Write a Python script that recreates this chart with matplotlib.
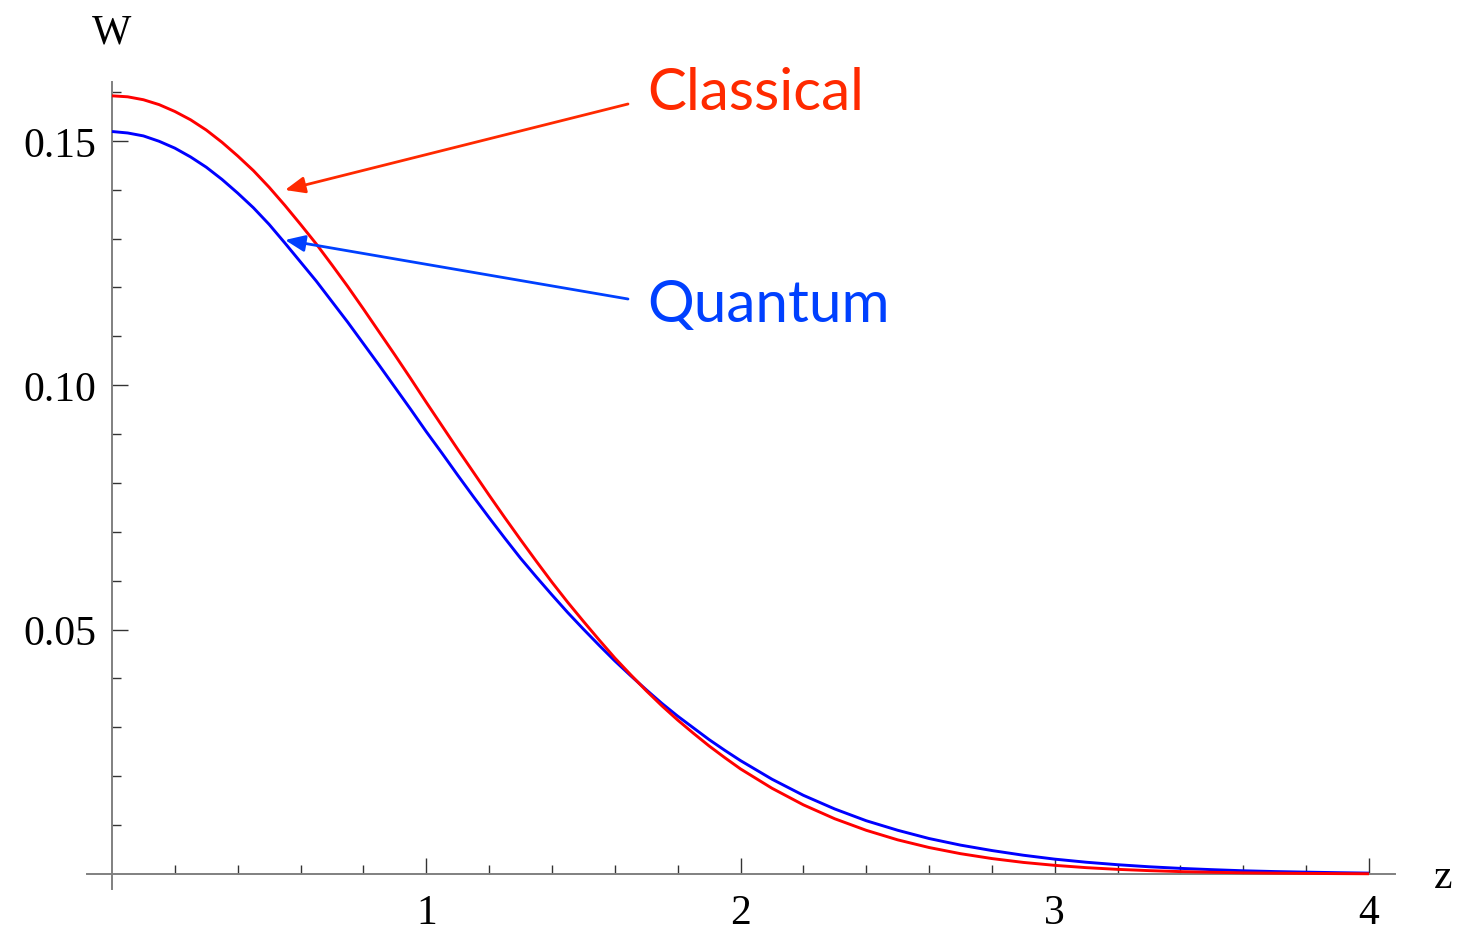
import matplotlib
matplotlib.use('Agg')
import matplotlib.pyplot as plt

# ---- data ----
z = [0.0, 0.05, 0.1, 0.15, 0.2, 0.25, 0.3, 0.35, 0.4, 0.45,
     0.5, 0.55, 0.6, 0.65, 0.7, 0.75, 0.8, 0.85, 0.9, 0.95,
     1.0, 1.05, 1.1, 1.15, 1.2, 1.25, 1.3, 1.35, 1.4, 1.45,
     1.5, 1.55, 1.6, 1.65, 1.7, 1.75, 1.8, 1.85, 1.9, 1.95,
     2.0, 2.1, 2.2, 2.3, 2.4, 2.5, 2.6, 2.7, 2.8, 2.9,
     3.0, 3.1, 3.2, 3.3, 3.4, 3.5, 3.6, 3.7, 3.8, 3.9, 4.0]

classical = [0.1592, 0.1590, 0.1584, 0.1574, 0.1560, 0.1543, 0.1522, 0.1497, 0.1469, 0.1439,
             0.1405, 0.1368, 0.1329, 0.1289, 0.1246, 0.1202, 0.1156, 0.1109, 0.1062, 0.1014,
             0.0965, 0.0917, 0.0869, 0.0822, 0.0775, 0.0729, 0.0684, 0.0640, 0.0597, 0.0556,
             0.0517, 0.0479, 0.0442, 0.0408, 0.0375, 0.0344, 0.0315, 0.0288, 0.0262, 0.0238,
             0.0215, 0.01755, 0.01415, 0.0113, 0.00894, 0.00699, 0.00542, 0.00416, 0.00316, 0.00237,
             0.00177, 0.00130, 0.00095, 0.00069, 0.00049, 0.00035, 0.00024, 0.00017, 0.00012, 0.00008, 0.00005]

quantum = [0.1519, 0.1516, 0.1510, 0.1499, 0.1485, 0.1467, 0.1446, 0.1421, 0.1393, 0.1363,
           0.1329, 0.1291, 0.1252, 0.1213, 0.1171, 0.1129, 0.1085, 0.1041, 0.0996, 0.0951,
           0.0905, 0.0861, 0.0816, 0.0772, 0.0729, 0.0687, 0.0646, 0.0608, 0.0571, 0.0535,
           0.0501, 0.0468, 0.0436, 0.0406, 0.0377, 0.0349, 0.0323, 0.0299, 0.0275, 0.0253,
           0.0232, 0.0194, 0.0161, 0.0133, 0.0109, 0.00895, 0.00726, 0.00591, 0.00480, 0.00384,
           0.00304, 0.00241, 0.00190, 0.00148, 0.00115, 0.00089, 0.00066, 0.00050, 0.00038, 0.00027, 0.00018]

x_major = [1, 2, 3, 4]
x_major_labels = ['1', '2', '3', '4']
x_minor = [0.2, 0.4, 0.6, 0.8, 1.2, 1.4, 1.6, 1.8, 2.2, 2.4, 2.6, 2.8, 3.2, 3.4, 3.6, 3.8]
y_major = [0.05, 0.10, 0.15]
y_major_labels = ['0.05', '0.10', '0.15']
y_minor = [0.01, 0.02, 0.03, 0.04, 0.06, 0.07, 0.08, 0.09, 0.11, 0.12, 0.13, 0.14, 0.16]

W_PX, H_PX = 1477, 928
fig = plt.figure(figsize=(W_PX / 100, H_PX / 100), dpi=100)
ax = fig.add_axes([87 / W_PX, 38 / H_PX, 1308 / W_PX, 807 / H_PX])
ax.set_xlim(-25 / 314.25, 4 + 26 / 314.25)
ax.set_ylim(-15 / 4888, 792 / 4888)

serif = 'Liberation Serif'
sans = 'Lato'

ax.plot(z, quantum, color='#0000ff', lw=2.1, solid_capstyle='butt',
        solid_joinstyle='round', zorder=3)
ax.plot(z, classical, color='#ff0000', lw=2.1, solid_capstyle='butt',
        solid_joinstyle='round', zorder=4)

for s in ['top', 'right']:
    ax.spines[s].set_visible(False)
for s in ['left', 'bottom']:
    ax.spines[s].set_position(('data', 0))
    ax.spines[s].set_color('#808080')
    ax.spines[s].set_linewidth(1.4)

ax.set_xticks(x_major)
ax.set_xticklabels(x_major_labels)
ax.set_xticks(x_minor, minor=True)
ax.set_yticks(y_major)
ax.set_yticklabels(y_major_labels)
ax.set_yticks(y_minor, minor=True)
ax.tick_params(which='major', direction='in', length=11.5, width=1.0, color='#333333',
               labelsize=30)
ax.tick_params(which='minor', direction='in', length=6.3, width=1.0, color='#333333')
ax.tick_params(axis='x', which='major', pad=14)
ax.tick_params(axis='y', which='major', pad=11)
for lab in ax.get_xticklabels() + ax.get_yticklabels():
    lab.set_fontfamily(serif)

# axis labels
fig.text(112 / W_PX, 1 - 43 / H_PX, 'W', ha='center', va='baseline', fontsize=30,
         family=serif)
fig.text(1443 / W_PX, 1 - 888 / H_PX, 'z', ha='center', va='baseline', fontsize=30,
         family=serif)

red_lab = '#ff2a00'
blue_lab = '#0040ff'

def px2data(px, py):
    return ((px - 112) / 314.25, (875 - py) / 4888)

ax.annotate('', xy=px2data(285, 191), xytext=px2data(628, 105),
            arrowprops=dict(arrowstyle='-|>,head_length=0.6,head_width=0.25',
                            color=red_lab, lw=2.0, mutation_scale=20,
                            shrinkA=0, shrinkB=0), zorder=5)
ax.annotate('', xy=px2data(285, 241), xytext=px2data(628, 300),
            arrowprops=dict(arrowstyle='-|>,head_length=0.6,head_width=0.25',
                            color=blue_lab, lw=2.0, mutation_scale=20,
                            shrinkA=0, shrinkB=0), zorder=5)

cx, cy = px2data(647, 110)
ax.text(cx, cy, 'Classical', color=red_lab, fontsize=42, family=sans,
        ha='left', va='baseline')
qx, qy = px2data(647, 322)
ax.text(qx, qy, 'Quantum', color=blue_lab, fontsize=42, family=sans,
        ha='left', va='baseline')

fig.savefig('out.png', dpi=100, facecolor='white')
